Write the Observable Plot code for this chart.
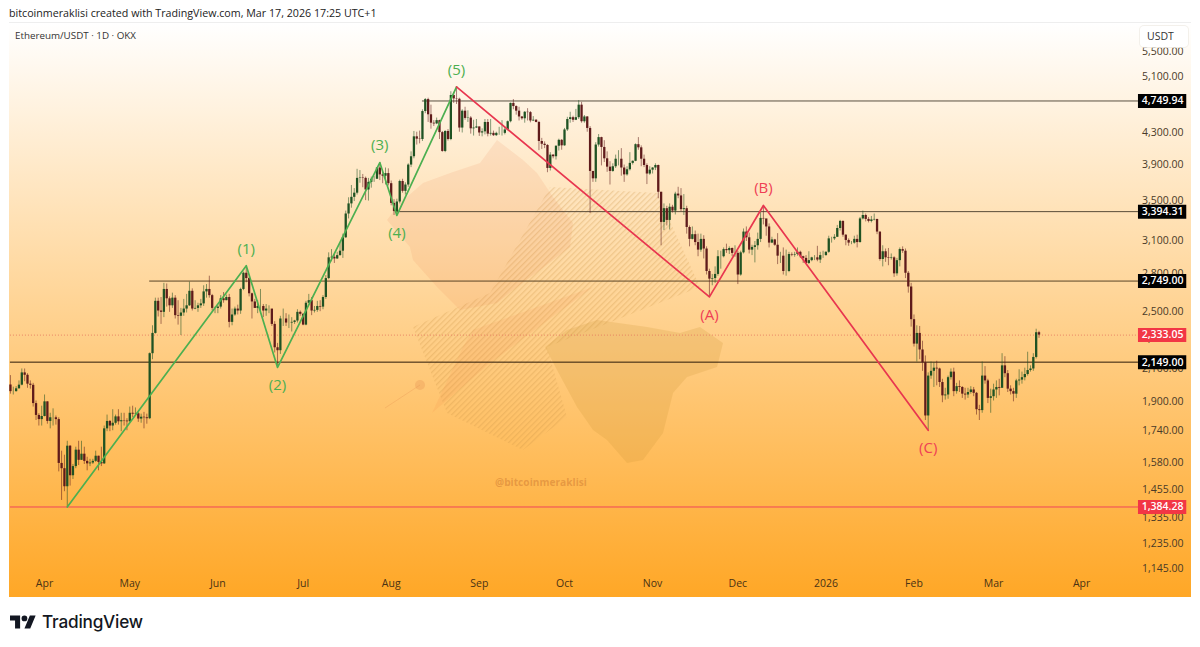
<!DOCTYPE html>
<html><head><meta charset="utf-8">
<script src="https://cdn.jsdelivr.net/npm/d3@7"></script>
<script src="https://cdn.jsdelivr.net/npm/@observablehq/plot@0.6"></script>
<style>
html,body{margin:0;padding:0;background:#fff;width:1200px;height:647px;overflow:hidden;font-family:"Open Sans",sans-serif}
#panel{position:absolute;left:9px;top:23px;width:1182px;height:574px;background:linear-gradient(#fff 0%,#ffa726 100%);box-shadow:0 -1px 0 #eee}
#wm{position:absolute;left:0;top:0}
#hd{position:absolute;left:9px;top:6px;font:10.7px "Open Sans",sans-serif;color:#222}
#sym{position:absolute;left:15px;top:29px;font:9.8px "Open Sans",sans-serif;color:#333}
#usdt{position:absolute;left:1140px;top:26px;width:48px;height:21px;background:#fff;border-radius:4px;box-shadow:0 0 0 1px rgba(240,236,230,.8);font:10.5px/21px "Open Sans",sans-serif;color:#333;text-indent:7px;z-index:3}
#tag{position:absolute;left:495px;top:475px;font:bold 10.2px "Open Sans",sans-serif;color:rgba(190,100,40,.38)}
#logo{position:absolute;left:10px;top:615px}
#mark{position:absolute;left:42px;top:611px;font:500 17.2px Inter,sans-serif;color:#131722;letter-spacing:-.2px}
#c{position:absolute;left:0;top:0;z-index:2}
</style></head><body>
<div id="panel"></div>
<svg id="wm" width="1200" height="647">
<defs><pattern id="hp" width="4" height="4" patternUnits="userSpaceOnUse" patternTransform="rotate(-45)"><rect width="4" height="1.3" fill="rgba(205,150,70,.30)"/></pattern></defs>
<polygon fill="url(#hp)" points="413,327 490,293 550,187 657,193 700,287 547,347 567,417 523,450 447,413"/>
<polygon fill="rgba(240,120,60,.10)" points="432,413 463,347 473,330 593,287 490,363"/>
<polygon fill="rgba(232,125,70,.12)" points="497,140 523,160 537,173 553,197 573,223 570,247 540,270 513,290 497,303 460,310 437,287 413,260 410,247 387,220 400,203 423,183 453,172 480,163"/>
<polygon fill="rgba(205,150,55,.22)" points="545,347 567,330 597,320 647,327 680,333 700,327 723,343 717,367 687,377 673,393 663,433 643,460 627,463 607,440 593,430 577,407 557,370"/>
<g stroke="rgba(225,130,70,.25)" fill="rgba(225,130,70,.25)"><line x1="385" y1="408" x2="420" y2="385"/><circle cx="420" cy="385" r="5" stroke="none"/></g>
</svg>
<div id="tag">@bitcoinmeraklisi</div>
<div id="hd">bitcoinmeraklisi created with TradingView.com, Mar 17, 2026 17:25 UTC+1</div>
<div id="sym">Ethereum/USDT · 1D · OKX</div>
<div id="usdt">USDT</div>
<div id="c"></div>
<svg id="logo" width="26" height="14" viewBox="0 4 36 18"><path fill="#131722" d="M14 22H7V11H0V4h14v18zM28 22h-8l7.5-18h8L28 22z"/><circle fill="#131722" cx="20" cy="8" r="4"/></svg>
<div id="mark">TradingView</div>
<script>
const firstDay = Date.UTC(2025, 2, 20);
const firstOpen = 2005;
const closes = [
1965,1965,1982,2004,2080,2065,2010,2003,1895,1828,1805,1822,
1905,1795,1815,1815,1805,1580,1555,1472,1665,1522,1565,1645,1595,1625,1590,1578,1582,1590,1615,1585,1578,1755,1795,1770,1785,1820,1793,1799,1797,1793,
1840,1835,1837,1808,1818,1815,1810,2205,2345,2585,2510,2500,2680,2605,2550,2610,2475,2470,2495,2525,2550,2665,2525,2530,2550,2565,2660,2680,2630,2530,2530,
2540,2605,2590,2615,2425,2480,2525,2510,2680,2815,2770,2645,2580,2530,2545,2545,2510,2525,2525,2410,2245,2225,2450,2450,2420,2420,2425,2435,2500,2485,
2405,2570,2590,2510,2515,2545,2540,2615,2770,2950,2955,2940,2970,3010,3135,3370,3475,3545,3590,3755,3760,3755,3625,3710,3745,3745,3875,3795,3780,3810,3695,
3480,3395,3495,3720,3610,3680,3910,4010,4260,4230,4225,4600,4770,4555,4440,4430,4475,4315,4075,4330,4225,4830,4780,4775,4375,4605,4505,4510,4365,4375,4390,
4310,4325,4450,4295,4305,4275,4305,4305,4305,4350,4460,4715,4670,4605,4525,4500,4590,4585,4470,4480,4450,4200,4165,4150,3870,4030,4010,4140,4215,4145,
4350,4490,4515,4480,4515,4690,4460,4525,4370,3835,3750,4155,4250,4125,3985,3885,3835,3890,3980,3980,3875,3795,3855,3930,3955,4160,4120,3980,3905,3805,3850,
3875,3905,3600,3285,3425,3305,3440,3400,3580,3560,3415,3425,3235,3120,3165,3090,3020,3120,3030,2830,2765,2770,2805,2960,2960,3025,3015,3035,2990,2990,
2800,2995,3190,3135,3020,3045,3060,3120,3325,3320,3240,3085,3115,3065,2965,2965,2830,2830,2980,2975,2980,3000,2960,2945,2900,2925,2950,2950,2930,2970,2970,
3000,3125,3125,3140,3225,3295,3160,3110,3085,3085,3120,3090,3320,3355,3315,3295,3310,3315,3190,2935,3005,2950,2945,2950,2810,2925,3025,3010,2815,2700,2445,
2270,2345,2230,2145,1825,2060,2090,2110,2105,2020,1940,1945,2050,2085,1965,1995,1990,1950,1945,1960,1975,1955,1860,1855,2060,2030,1925,1935,
1975,1990,1985,2125,2075,1980,1965,1950,2030,2035,2050,2070,2095,2105,2180,2350,2333];
const highs = [
2063,1992,1995,2030,2105,2105,2075,2030,2015,1910,1838,1880,
1945,1905,1840,1865,1825,1815,1640,1620,1690,1668,1575,1660,1690,1690,1660,1610,1600,1600,1640,1615,1660,1770,1830,1800,1860,1830,1860,1840,1840,1810,
1875,1880,1870,1845,1835,1845,1835,2210,2400,2610,2610,2615,2730,2725,2620,2650,2630,2590,2530,2600,2640,2740,2685,2590,2570,2600,2710,2720,2790,2640,2540,
2550,2630,2655,2635,2640,2525,2540,2555,2690,2825,2880,2780,2650,2600,2590,2680,2560,2560,2550,2520,2430,2275,2470,2525,2490,2480,2460,2440,2520,2510,
2490,2585,2640,2615,2545,2585,2590,2630,2795,2995,3025,2980,3000,3080,3170,3400,3540,3675,3640,3860,3845,3800,3770,3755,3770,3780,3880,3940,3820,3875,3865,
3725,3520,3525,3735,3745,3705,3925,4070,4330,4320,4335,4625,4785,4790,4690,4475,4510,4480,4330,4340,4355,4885,4875,4957,4790,4625,4660,4610,4530,4480,4490,
4390,4365,4490,4490,4490,4335,4320,4385,4475,4385,4470,4720,4770,4680,4660,4530,4600,4640,4600,4530,4490,4465,4240,4195,4160,4060,4035,4145,4230,4225,
4370,4520,4590,4535,4630,4755,4730,4545,4530,4395,3820,4185,4290,4255,4210,4070,3950,3925,4030,4085,4110,3910,3890,4060,3960,4170,4250,4145,4030,3925,3890,
3880,3925,3910,3600,3475,3450,3475,3460,3600,3655,3640,3575,3450,3250,3240,3200,3170,3170,3155,3050,2850,2805,2870,3015,3010,3040,3075,3050,3040,3060,
3010,3010,3220,3240,3180,3065,3100,3180,3395,3458,3300,3270,3140,3120,3175,3000,3040,3020,3000,2995,3000,3040,3010,2965,2970,3005,2955,2970,3055,3000,3010,
3005,3150,3140,3165,3255,3305,3300,3165,3125,3100,3150,3160,3335,3400,3370,3335,3345,3370,3315,3190,3060,3030,3035,2985,2960,2945,3040,3050,3030,2830,2730,
2480,2400,2395,2290,2190,2080,2150,2145,2155,2110,2040,1985,2060,2105,2110,2015,2030,1995,1985,1985,1995,1990,1960,1885,2150,2120,2040,1980,
2010,2030,2040,2205,2185,2095,2000,1985,2040,2100,2085,2110,2215,2125,2205,2375,2360];
const lows = [
1950,1945,1962,1980,2000,2025,1985,1980,1875,1800,1770,1770,
1820,1780,1755,1770,1775,1540,1412,1450,1385,1475,1505,1555,1570,1595,1575,1545,1565,1575,1585,1545,1565,1575,1740,1740,1745,1775,1775,1740,1770,1745,
1790,1815,1825,1790,1785,1755,1780,1805,2165,2340,2465,2410,2460,2540,2500,2530,2450,2405,2330,2470,2495,2545,2510,2520,2500,2530,2545,2610,2610,2510,2490,
2490,2525,2570,2590,2385,2400,2470,2480,2485,2670,2735,2620,2450,2530,2490,2510,2460,2470,2490,2395,2210,2115,2200,2395,2395,2380,2355,2410,2420,2470,
2400,2400,2565,2475,2495,2500,2505,2520,2600,2760,2915,2900,2935,2965,2945,3130,3320,3430,3500,3570,3700,3650,3510,3505,3645,3710,3745,3730,3695,3680,3670,
3455,3355,3360,3475,3590,3570,3655,3880,3985,4155,4170,4200,4570,4450,4360,4395,4420,4225,4065,4060,4205,4210,4715,4700,4320,4310,4480,4450,4295,4270,4370,
4265,4260,4285,4260,4270,4265,4265,4280,4270,4285,4340,4445,4625,4550,4470,4480,4440,4470,4445,4465,4445,4085,4100,4110,3820,3840,3985,3970,4080,4090,
4140,4330,4440,4450,4475,4490,4440,4440,4320,3375,3710,3710,4130,3900,3940,3825,3680,3825,3870,3900,3780,3710,3780,3840,3910,3950,4090,3890,3880,3685,3790,
3805,3845,3530,3060,3205,3250,3210,3380,3360,3530,3395,3355,3170,3050,3115,3060,2960,3000,2940,2800,2620,2710,2730,2790,2850,2950,2990,2980,2960,2955,
2720,2790,2985,3100,2985,2970,2905,3020,3090,3260,3150,3040,3080,3055,2890,2900,2800,2790,2820,2960,2955,2965,2945,2900,2900,2890,2915,2925,2915,2900,2945,
2965,2990,3085,3110,3140,3200,3140,3060,3055,3070,3075,3040,3085,3310,3290,3280,3280,3300,3165,2920,2870,2910,2880,2930,2780,2790,2870,2990,2770,2650,2390,
2250,2150,2165,2090,1800,1747,2040,1990,2000,1990,1900,1915,1920,2035,1935,1950,1960,1925,1915,1925,1950,1935,1830,1800,1840,2010,1895,1840,
1910,1925,1940,1985,2050,1960,1945,1905,1925,2000,2010,2030,2060,2085,2090,2170,2310];

const greenWaveDates = ["2025-04-09","2025-06-11","2025-06-22","2025-07-28","2025-08-03","2025-08-24"];
const greenWavePrices = [1384.28,2880,2115,3940,3355,4957];
const redWaveDates = ["2025-08-24","2025-11-21","2025-12-10","2026-02-06"];
const redWavePrices = [4957,2620,3458,1747];
const waveLabels = ["(1)","(2)","(3)","(4)","(5)","(A)","(B)","(C)"];
const waveLabelDates = ["2025-06-11","2025-06-22","2025-07-28","2025-08-03","2025-08-24","2025-11-21","2025-12-10","2026-02-06"];
const waveLabelPrices = [2880,2115,3940,3355,4957,2620,3458,1747];
const waveLabelAbove = [true,false,true,false,true,false,true,false];
const waveLabelColors = ["#4caf50","#4caf50","#4caf50","#4caf50","#4caf50","#ef3f55","#ef3f55","#ef3f55"];

const levelPrices = [4749.94,3394.31,2749,2149,1384.28,2333.05];
const levelStarts = ["2025-08-12","2025-08-03","2025-05-08","2025-03-20","2025-03-20","2025-03-20"];
const levelColors = ["#5a5040","#5a4c38","#5a4426","#2a1a08","#f0455a","#e2725b"];
const levelBoxes = ["#000","#000","#000","#000","#f23645","#f23645"];
const priceTicks = [5500,5100,4300,3900,3500,3100,2800,2500,2300,2100,1900,1740,1580,1455,1335,1235,1145];
const monthDates = ["2025-04-01","2025-05-01","2025-06-01","2025-07-01","2025-08-01","2025-09-01","2025-10-01","2025-11-01","2025-12-01","2026-01-01","2026-02-01","2026-03-01","2026-04-01"];
const monthLabels = ["Apr","May","Jun","Jul","Aug","Sep","Oct","Nov","Dec","2026","Feb","Mar","Apr"];

const xDomain = [new Date("2025-03-19T16:00Z"), new Date("2026-05-09T16:00Z")];
const yDomain = [1051.6, 6010];
const boxFrom = "2026-04-21", boxTo = "2026-05-08";
const D = s => new Date(s + "T00:00Z");

const candles = closes.map((c, i) => ({
  date: d3.utcDay.offset(new Date(firstDay), i),
  open: i ? closes[i-1] : firstOpen, close: c, high: highs[i], low: lows[i]
}));
const up = d => d.close >= d.open;
const candleColor = d => up(d) ? "#1f5223" : "#5f1b1b";
const wave = (ds, ps) => ds.map((d, i) => ({date: D(d), price: ps[i]}));
const levels = levelPrices.map((p, i) => ({price: p, start: D(levelStarts[i]), color: levelColors[i], box: levelBoxes[i], dotted: i === 5}));
const labels = waveLabels.map((t, i) => ({t, date: D(waveLabelDates[i]), price: waveLabelPrices[i], above: waveLabelAbove[i], color: waveLabelColors[i]}));
const fontFam = '"Open Sans",sans-serif';

const chart = Plot.plot({
  width: 1200, height: 647,
  marginLeft: 9, marginRight: 9, marginTop: 23, marginBottom: 50,
  x: {type: "utc", domain: xDomain, axis: null},
  y: {type: "log", domain: yDomain, axis: null},
  style: {background: "transparent", fontFamily: fontFam},
  marks: [
    Plot.ruleY(levels.filter(d => !d.dotted), {y: "price", x1: "start", x2: D(boxFrom), stroke: "color", strokeWidth: 1}),
    Plot.ruleY(levels.filter(d => d.dotted), {y: "price", x1: "start", x2: D(boxFrom), stroke: "color", strokeWidth: 0.8, strokeDasharray: "1 2"}),
    Plot.ruleX(candles, {x: "date", y1: "low", y2: "high", stroke: candleColor, strokeWidth: 1, strokeOpacity: 0.55}),
    Plot.ruleX(candles, {x: "date", y1: "open", y2: "close", stroke: candleColor, strokeWidth: 2.3}),
    Plot.line(wave(greenWaveDates, greenWavePrices), {x: "date", y: "price", stroke: "#4caf50", strokeWidth: 1.7, curve: "linear"}),
    Plot.line(wave(redWaveDates, redWavePrices), {x: "date", y: "price", stroke: "#e8364f", strokeWidth: 1.7, curve: "linear"}),
    Plot.text(labels.filter(d => d.above), {x: "date", y: "price", text: "t", fill: "color", fontSize: 15, dy: -17, fontFamily: fontFam}),
    Plot.text(labels.filter(d => !d.above), {x: "date", y: "price", text: "t", fill: "color", fontSize: 15, dy: 18, fontFamily: fontFam}),
    Plot.text(priceTicks, {y: d => d, text: d => d3.format(",.2f")(d), frameAnchor: "right", textAnchor: "end", dx: -8, dy: -1, fill: "#4a3a28", fontSize: 10.5, fontFamily: fontFam}),
    Plot.ruleY(levels, {y: "price", x1: D(boxFrom), x2: D(boxTo), stroke: "box", strokeWidth: 14}),
    Plot.text(levels, {y: "price", text: d => d3.format(",.2f")(d.price), frameAnchor: "right", textAnchor: "end", dx: -8, fill: "#fff", fontSize: 10.5, fontWeight: 600, fontFamily: fontFam}),
    Plot.text(monthDates.map((d, i) => ({date: D(d), label: monthLabels[i]})), {x: "date", text: "label", frameAnchor: "bottom", dy: -11, fill: "#4a3214", fontSize: 10.5, fontWeight: d => d.label === "2026" ? 700 : 400, fontFamily: fontFam})
  ]
});
document.getElementById("c").append(chart);
</script>
</body></html>
